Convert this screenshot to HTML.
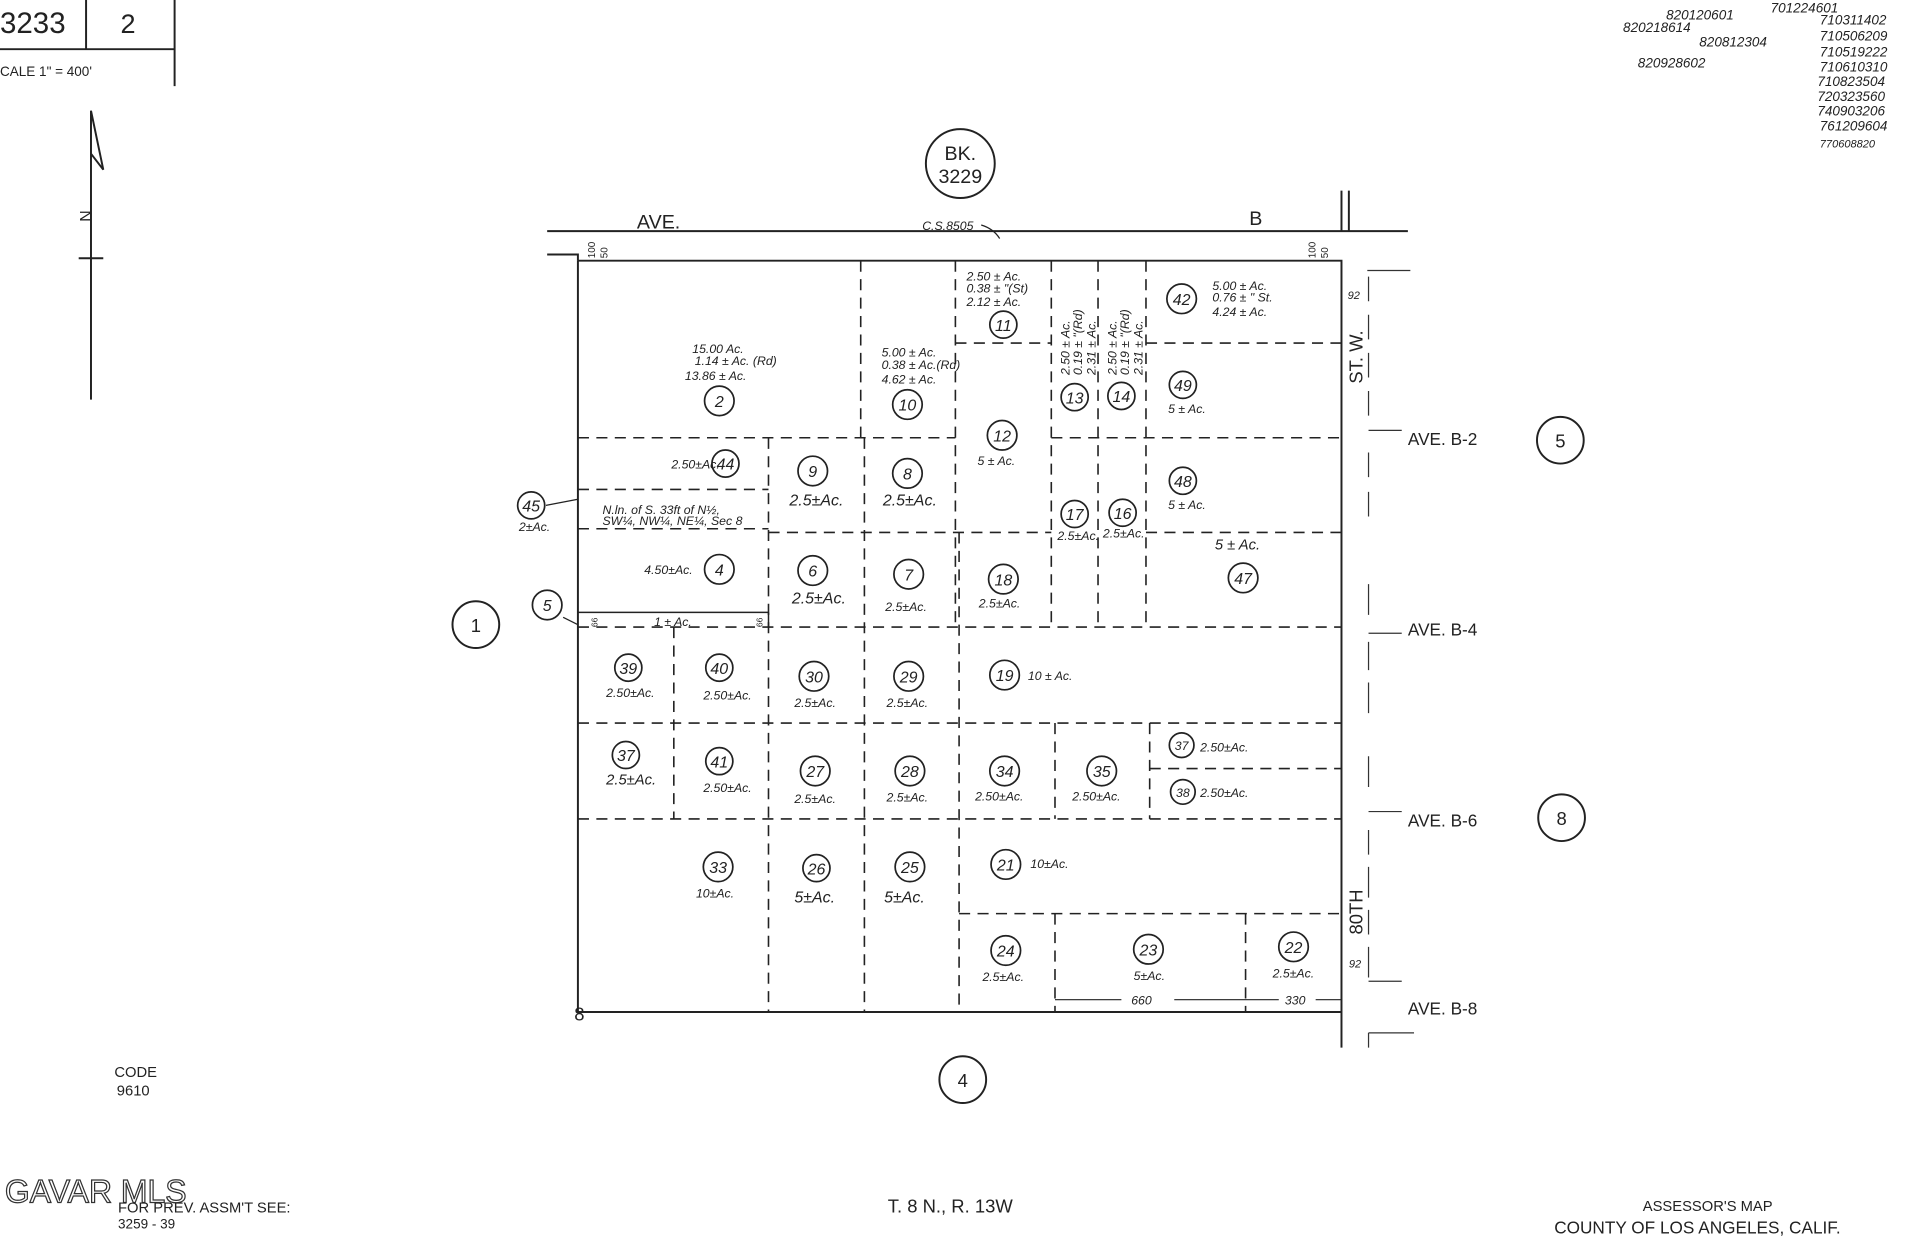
<!DOCTYPE html>
<html><head><meta charset="utf-8"><style>
html,body{margin:0;padding:0;background:#fff;}
svg{display:block}
text{font-family:"Liberation Sans",sans-serif;fill:#222}
.h{font-style:italic;font-size:10px}
.m{font-style:italic;font-size:13px}
.c{font-size:15px;text-anchor:middle}
.d{stroke:#222;stroke-width:1.3;stroke-dasharray:9,6;fill:none}
.s{stroke:#222;stroke-width:1.6;fill:none}
.r{stroke:#333;stroke-width:1;fill:none}
</style></head><body>
<svg width="1928" height="1245" viewBox="0 0 1568 1012.5" preserveAspectRatio="none" xmlns="http://www.w3.org/2000/svg">
<path class="s" d="M0 40 H142 V70 M70 0 V40 M142 0 V40"/>
<text x="0" y="27" style="font-size:24px">3233</text>
<text x="98" y="27" style="font-size:22px">2</text>
<text x="0" y="62" style="font-size:11px">CALE 1" = 400'</text>
<path class="s" d="M74 90 V325 M64 210 H84 M74 90 L84 138 L74 125"/>
<text x="66" y="180" style="font-size:13px" transform="rotate(90 70 175)">N</text>
<g style="font-style:italic;font-size:11px">
<text x="1355" y="16">820120601</text><text x="1440" y="10">701224601</text>
<text x="1320" y="26">820218614</text><text x="1382" y="38">820812304</text>
<text x="1332" y="55">820928602</text>
<text x="1480" y="20">710311402</text><text x="1480" y="33">710506209</text>
<text x="1480" y="46">710519222</text><text x="1480" y="58">710610310</text>
<text x="1478" y="70">710823504</text><text x="1478" y="82">720323560</text>
<text x="1478" y="94">740903206</text><text x="1480" y="106">761209604</text>
<text x="1480" y="120" style="font-size:9px">770608820</text>
</g>
<circle cx="781" cy="133" r="28" class="s"/>
<text x="781" y="130" class="c" style="font-size:16px">BK.</text>
<text x="781" y="149" class="c" style="font-size:16px">3229</text>
<path class="s" d="M445 188 H1145 M1091 155 V188 M1097 155 V188 M445 207 H470 V212"/>
<text x="518" y="186" style="font-size:16px">AVE.</text>
<text x="1016" y="183" style="font-size:16px">B</text>
<text x="750" y="187" class="h">C.S.8505</text>
<path class="s" style="stroke-width:1" d="M798 183 Q808 186 813 194"/>
<text x="484" y="210" style="font-size:8px" transform="rotate(-90 484 210)">100</text>
<text x="494" y="210" style="font-size:8px" transform="rotate(-90 494 210)">50</text>
<text x="1070" y="210" style="font-size:8px" transform="rotate(-90 1070 210)">100</text>
<text x="1080" y="210" style="font-size:8px" transform="rotate(-90 1080 210)">50</text>
<path class="s" d="M470 212 H1091 V852 M470 212 V823 H1091"/>
<g class="d">
<path d="M700 212 V356 M777 212 V510 M855 212 V510 M893 212 V510 M932 212 V510"/>
<path d="M777 279 H855 M932 279 H1091 M470 356 H777 M855 356 H1091 M625 433 H855 M932 433 H1091"/>
<path d="M470 510 H1091 M470 588 H1091 M470 666 H1091 M780 743 H1091 M935 625 H1091"/>
<path d="M625 356 V823 M703 356 V823 M780 433 V823 M548 510 V666 M858 588 V666 M935 588 V666 M858 743 V823 M1013 743 V823"/>
<path d="M470 398 H625 M470 430 H625"/>
</g>
<path class="s" style="stroke-width:1.2" d="M470 498 H625 M625 498 V510"/>
<text x="486" y="510" style="font-size:7px" transform="rotate(-90 486 510)">66</text>
<text x="620" y="510" style="font-size:7px" transform="rotate(-90 620 510)">66</text>
<!-- right side dashed road -->
<path class="r" d="M1112 220 H1147 M1113 225 V245 M1113 256 V276 M1113 287 V307 M1113 318 V338 M1113 350 H1140
M1113 368 V388 M1113 400 V420 M1113 475 V500 M1113 515 H1140 M1113 522 V545 M1113 555 V580
M1113 615 V640 M1113 660 H1140 M1113 675 V695 M1113 705 V730 M1113 740 V760 M1113 770 V795 M1113 798 H1140 M1113 840 H1150 M1113 840 V852"/>
<text x="1108" y="312" style="font-size:15px" transform="rotate(-90 1108 312)">ST. W.</text>
<text x="1108" y="760" style="font-size:15px" transform="rotate(-90 1108 760)">80TH</text>
<text x="1145" y="362" style="font-size:14px">AVE. B-2</text>
<text x="1145" y="517" style="font-size:14px">AVE. B-4</text>
<text x="1145" y="672" style="font-size:14px">AVE. B-6</text>
<text x="1145" y="825" style="font-size:14px">AVE. B-8</text>
<circle cx="1269" cy="358" r="19" class="s"/><text x="1269" y="364" class="c">5</text>
<circle cx="1270" cy="665" r="19" class="s"/><text x="1270" y="671" class="c">8</text>
<circle cx="387" cy="508" r="19" class="s"/><text x="387" y="514" class="c">1</text>
<circle cx="783" cy="878" r="19" class="s"/><text x="783" y="884" class="c">4</text>
<text x="467" y="830" style="font-size:15px">8</text>
<g class="s" style="stroke-width:1.4">
<circle cx="585" cy="326" r="12"/><circle cx="738" cy="329" r="12"/><circle cx="816" cy="264" r="11"/>
<circle cx="815" cy="354" r="12"/><circle cx="874" cy="323" r="11"/><circle cx="912" cy="322" r="11"/>
<circle cx="961" cy="243" r="12"/><circle cx="962" cy="313" r="11"/><circle cx="962" cy="391" r="11"/>
<circle cx="590" cy="377" r="11"/><circle cx="661" cy="383" r="12"/><circle cx="738" cy="385" r="12"/>
<circle cx="432" cy="411" r="11"/><circle cx="874" cy="418" r="11"/><circle cx="913" cy="417" r="11"/>
<circle cx="585" cy="463" r="12"/><circle cx="661" cy="464" r="12"/><circle cx="739" cy="467" r="12"/>
<circle cx="816" cy="471" r="12"/><circle cx="1011" cy="470" r="12"/><circle cx="445" cy="492" r="12"/>
<circle cx="511" cy="543" r="11"/><circle cx="585" cy="543" r="11"/><circle cx="662" cy="550" r="12"/>
<circle cx="739" cy="550" r="12"/><circle cx="817" cy="549" r="12"/>
<circle cx="509" cy="614" r="11"/><circle cx="585" cy="619" r="11"/><circle cx="663" cy="627" r="12"/>
<circle cx="740" cy="627" r="12"/><circle cx="817" cy="627" r="12"/><circle cx="896" cy="627" r="12"/>
<circle cx="961" cy="606" r="10"/><circle cx="962" cy="644" r="10"/>
<circle cx="584" cy="705" r="12"/><circle cx="664" cy="706" r="11"/><circle cx="740" cy="705" r="12"/>
<circle cx="818" cy="703" r="12"/><circle cx="818" cy="773" r="12"/><circle cx="934" cy="772" r="12"/><circle cx="1052" cy="770" r="12"/>
</g>
<g class="c" style="font-size:13px;font-style:italic">
<text x="585" y="331">2</text><text x="738" y="334">10</text><text x="816" y="269">11</text>
<text x="815" y="359">12</text><text x="874" y="328">13</text><text x="912" y="327">14</text>
<text x="961" y="248">42</text><text x="962" y="318">49</text><text x="962" y="396">48</text>
<text x="590" y="382">44</text><text x="661" y="388">9</text><text x="738" y="390">8</text>
<text x="432" y="416">45</text><text x="874" y="423">17</text><text x="913" y="422">16</text>
<text x="585" y="468">4</text><text x="661" y="469">6</text><text x="739" y="472">7</text>
<text x="816" y="476">18</text><text x="1011" y="475">47</text><text x="445" y="497">5</text>
<text x="511" y="548">39</text><text x="585" y="548">40</text><text x="662" y="555">30</text>
<text x="739" y="555">29</text><text x="817" y="554">19</text>
<text x="509" y="619">37</text><text x="585" y="624">41</text><text x="663" y="632">27</text>
<text x="740" y="632">28</text><text x="817" y="632">34</text><text x="896" y="632">35</text>
<text x="961" y="610" style="font-size:10px">37</text><text x="962" y="648" style="font-size:10px">38</text>
<text x="584" y="710">33</text><text x="664" y="711">26</text><text x="740" y="710">25</text>
<text x="818" y="708">21</text><text x="818" y="778">24</text><text x="934" y="777">23</text><text x="1052" y="775">22</text>
</g>
<g class="h">
<text x="563" y="287">15.00 Ac.</text><text x="565" y="297">1.14 ± Ac. (Rd)</text><text x="557" y="309">13.86 ± Ac.</text>
<text x="717" y="290">5.00 ± Ac.</text><text x="717" y="300">0.38 ± Ac.(Rd)</text><text x="717" y="312">4.62 ± Ac.</text>
<text x="786" y="228">2.50 ± Ac.</text><text x="786" y="238">0.38 ± "(St)</text><text x="786" y="249">2.12 ± Ac.</text>
<text x="986" y="236">5.00 ± Ac.</text><text x="986" y="245">0.76 ± "  St.</text><text x="986" y="257">4.24 ± Ac.</text>
<text x="870" y="305" transform="rotate(-90 870 305)">2.50 ± Ac.</text>
<text x="880" y="305" transform="rotate(-90 880 305)">0.19 ± "(Rd)</text>
<text x="891" y="305" transform="rotate(-90 891 305)">2.31 ± Ac.</text>
<text x="908" y="305" transform="rotate(-90 908 305)">2.50 ± Ac.</text>
<text x="918" y="305" transform="rotate(-90 918 305)">0.19 ± "(Rd)</text>
<text x="929" y="305" transform="rotate(-90 929 305)">2.31 ± Ac.</text>
<text x="950" y="336">5 ± Ac.</text><text x="950" y="414">5 ± Ac.</text>
<text x="795" y="378">5 ± Ac.</text>
<text x="546" y="381">2.50±Ac.</text>
<text x="490" y="418">N.ln. of S. 33ft of N½,</text><text x="490" y="427">SW¼, NW¼, NE¼, Sec 8</text>
<text x="422" y="432">2±Ac.</text>
<text x="524" y="467">4.50±Ac.</text><text x="532" y="509">1 ± Ac.</text>
<text x="860" y="439">2.5±Ac.</text><text x="897" y="437">2.5±Ac.</text>
<text x="988" y="447" style="font-size:12px">5 ± Ac.</text>
<text x="720" y="497">2.5±Ac.</text><text x="796" y="494">2.5±Ac.</text>
<text x="836" y="553">10 ± Ac.</text>
<text x="493" y="567">2.50±Ac.</text><text x="572" y="569">2.50±Ac.</text>
<text x="646" y="575">2.5±Ac.</text><text x="721" y="575">2.5±Ac.</text>
<text x="493" y="638" style="font-size:12px">2.5±Ac.</text><text x="572" y="644">2.50±Ac.</text>
<text x="646" y="653">2.5±Ac.</text><text x="721" y="652">2.5±Ac.</text>
<text x="793" y="651">2.50±Ac.</text><text x="872" y="651">2.50±Ac.</text>
<text x="976" y="611">2.50±Ac.</text><text x="976" y="648">2.50±Ac.</text>
<text x="566" y="730">10±Ac.</text><text x="838" y="706">10±Ac.</text>
<text x="799" y="798">2.5±Ac.</text><text x="922" y="797">5±Ac.</text><text x="1035" y="795">2.5±Ac.</text>
<text x="920" y="817">660</text><text x="1045" y="817">330</text>
<text x="1096" y="243" style="font-size:9px">92</text><text x="1097" y="787" style="font-size:9px">92</text>
</g>
<g class="m">
<text x="642" y="411">2.5±Ac.</text><text x="718" y="411">2.5±Ac.</text>
<text x="644" y="491">2.5±Ac.</text>
<text x="646" y="734">5±Ac.</text><text x="719" y="734">5±Ac.</text>
</g>
<path class="s" style="stroke-width:1" d="M858 813 H912 M955 813 H1040 M1070 813 H1091 M444 411 L470 406 M458 502 L470 508"/>
<text x="93" y="876" style="font-size:12px">CODE</text><text x="95" y="891" style="font-size:12px">9610</text>
<text x="4" y="978" style="font-size:26px;fill:#fff;stroke:#333;stroke-width:1">GAVAR MLS</text>
<text x="96" y="986" style="font-size:12px">FOR PREV. ASSM'T SEE:</text>
<text x="96" y="999" style="font-size:11px">3259 - 39</text>
<text x="722" y="986" style="font-size:15px">T. 8 N., R. 13W</text>
<text x="1336" y="985" style="font-size:12px">ASSESSOR'S MAP</text>
<text x="1264" y="1003" style="font-size:14px">COUNTY OF LOS ANGELES, CALIF.</text>
</svg>
</body></html>
